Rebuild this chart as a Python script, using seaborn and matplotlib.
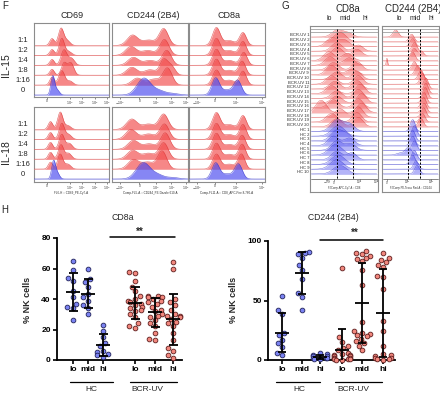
import numpy as np
import pandas as pd
import matplotlib
matplotlib.use("Agg")
import matplotlib.pyplot as plt
from matplotlib.lines import Line2D
import seaborn as sns

# ======================= DATA =======================
# ---- Panel H : % NK cells ----
H_CATS = ["lo", "mid", "hi", "lo", "mid", "hi"]
H_GROUPS = ["HC", "BCR-UV"]

cd8a_hc_lo = [65, 59, 54, 52, 45, 41, 37, 35, 34, 26]
cd8a_hc_mid = [60, 53, 51, 48, 43, 41, 39, 36, 34, 30]
cd8a_hc_hi = [23, 19, 15, 11, 9, 6, 5, 3, 2, 4]
cd8a_bcr_lo = [58, 57, 52, 48, 45, 42, 40, 39, 38, 37, 36, 35, 34, 33, 32, 30, 28, 24, 22, 21]
cd8a_bcr_mid = [42, 42, 41, 41, 40, 39, 38, 37, 35, 33, 32, 30, 29, 28, 26, 24, 22, 18, 14, 13]
cd8a_bcr_hi = [64, 60, 40, 38, 36, 33, 30, 29, 29, 28, 27, 25, 24, 22, 18, 13, 8, 6, 3, 1]

cd244_hc_lo = [54, 42, 39, 23, 21, 17, 14, 11, 6, 4]
cd244_hc_mid = [91, 90, 89, 86, 80, 76, 68, 56, 53, 42]
cd244_hc_hi = [6, 5, 4, 3, 3, 2, 2, 1, 1, 2]
cd244_bcr_lo = [77, 19, 15, 12, 10, 8, 6, 5, 4, 4, 3, 3, 2, 2, 2, 1, 1, 1, 0, 0]
cd244_bcr_mid = [92, 90, 89, 87, 86, 85, 83, 76, 63, 32, 24, 23, 22, 21, 20, 18, 16, 14, 12, 8]
cd244_bcr_hi = [90, 86, 84, 82, 80, 78, 71, 70, 60, 33, 24, 12, 5, 4, 3, 2, 2, 1, 1, 0]

# ---- Panel F : histogram peaks per row (centre, height in rows, width) ----
F_MARKERS = ["CD69", "CD244 (2B4)", "CD8a"]
F_CYTOKINES = ["IL-15", "IL-18"]
F_DILUTIONS = ["1:1", "1:2", "1:4", "1:8", "1:16", "0"]
F_XLABELS = ["FL6-H :: CD69_PE-Cy7-A", "Comp-FL5-A :: CD244_PE-Dazzle 610-A",
             "Comp-FL11-A :: CD8_APC-Fire 8-760-A"]

cd69_il15 = [
    [(0.24, 0.7, 0.03), (0.36, 1.7, 0.035), (0.44, 0.5, 0.04)],
    [(0.24, 0.6, 0.03), (0.37, 1.7, 0.035), (0.46, 0.4, 0.04)],
    [(0.24, 0.6, 0.03), (0.40, 1.55, 0.04), (0.50, 0.7, 0.04)],
    [(0.24, 0.6, 0.03), (0.40, 1.2, 0.035), (0.49, 1.25, 0.04)],
    [(0.24, 0.8, 0.03), (0.37, 1.45, 0.04), (0.48, 0.4, 0.04)],
    [(0.25, 1.9, 0.025), (0.31, 0.5, 0.03)],
]
cd244_il15 = [
    [(0.27, 1.05, 0.07), (0.48, 0.55, 0.08), (0.68, 1.7, 0.06)],
    [(0.25, 0.9, 0.07), (0.47, 0.5, 0.08), (0.69, 1.6, 0.06)],
    [(0.28, 0.8, 0.07), (0.50, 0.5, 0.08), (0.72, 1.5, 0.06)],
    [(0.26, 0.8, 0.07), (0.50, 0.55, 0.08), (0.68, 1.5, 0.05), (0.78, 0.9, 0.05)],
    [(0.33, 0.7, 0.07), (0.55, 0.6, 0.08), (0.73, 1.7, 0.06)],
    [(0.42, 1.7, 0.09), (0.62, 0.4, 0.08), (0.80, 0.15, 0.08)],
]
cd8a_il15 = [
    [(0.36, 1.8, 0.05), (0.53, 0.5, 0.07), (0.71, 1.3, 0.045)],
    [(0.36, 1.7, 0.05), (0.53, 0.5, 0.07), (0.71, 1.4, 0.045)],
    [(0.36, 1.6, 0.05), (0.53, 0.5, 0.07), (0.72, 1.3, 0.045)],
    [(0.36, 1.6, 0.05), (0.53, 0.5, 0.07), (0.70, 1.4, 0.045)],
    [(0.36, 1.5, 0.05), (0.53, 0.5, 0.07), (0.71, 1.4, 0.045)],
    [(0.35, 1.7, 0.05), (0.50, 0.5, 0.07), (0.64, 1.45, 0.05)],
]
cd69_il18 = [
    [(0.22, 0.8, 0.03), (0.35, 1.75, 0.035), (0.45, 0.4, 0.04)],
    [(0.22, 0.7, 0.03), (0.37, 1.6, 0.035), (0.46, 0.5, 0.04)],
    [(0.22, 0.7, 0.03), (0.37, 1.5, 0.035), (0.47, 0.6, 0.04)],
    [(0.22, 0.7, 0.03), (0.36, 1.45, 0.035), (0.46, 0.6, 0.04)],
    [(0.22, 0.7, 0.03), (0.35, 1.5, 0.035), (0.45, 0.5, 0.04)],
    [(0.26, 1.75, 0.025), (0.31, 0.6, 0.03)],
]
cd244_il18 = [
    [(0.26, 1.05, 0.07), (0.48, 0.55, 0.08), (0.68, 1.55, 0.06)],
    [(0.25, 1.0, 0.07), (0.48, 0.55, 0.08), (0.69, 1.55, 0.06)],
    [(0.28, 0.9, 0.07), (0.49, 0.55, 0.08), (0.70, 1.65, 0.06)],
    [(0.27, 0.9, 0.07), (0.48, 0.6, 0.08), (0.68, 1.65, 0.06)],
    [(0.28, 0.95, 0.07), (0.47, 0.7, 0.08), (0.66, 1.8, 0.06)],
    [(0.41, 1.65, 0.09), (0.60, 0.4, 0.08), (0.80, 0.15, 0.08)],
]
cd8a_il18 = [
    [(0.36, 1.7, 0.05), (0.53, 0.5, 0.07), (0.71, 1.4, 0.045)],
    [(0.36, 1.6, 0.05), (0.53, 0.5, 0.07), (0.71, 1.5, 0.045)],
    [(0.36, 1.6, 0.05), (0.53, 0.5, 0.07), (0.70, 1.4, 0.045)],
    [(0.36, 1.6, 0.05), (0.53, 0.5, 0.07), (0.70, 1.5, 0.045)],
    [(0.36, 1.5, 0.05), (0.53, 0.5, 0.07), (0.69, 1.5, 0.045)],
    [(0.35, 1.6, 0.05), (0.50, 0.5, 0.07), (0.65, 1.5, 0.05)],
]

# ---- Panel G : per-sample histogram peaks (centre, height in rows, width) ----
G_SAMPLES = [f"BCR-UV {i}" for i in range(1, 21)] + [f"HC {i}" for i in range(1, 11)]
g_cd8a = [
    [(0.39, 1.4, 0.08), (0.55, 0.9, 0.08)],
    [(0.44, 2.0, 0.09)],
    [(0.31, 1.8, 0.08), (0.50, 1.4, 0.08)],
    [(0.39, 1.8, 0.08), (0.72, 1.3, 0.07)],
    [(0.40, 1.8, 0.08), (0.70, 1.4, 0.07)],
    [(0.27, 1.9, 0.08), (0.55, 1.5, 0.08)],
    [(0.29, 1.8, 0.08), (0.58, 1.6, 0.08)],
    [(0.34, 1.6, 0.08), (0.70, 1.8, 0.07)],
    [(0.31, 2.0, 0.08), (0.62, 1.2, 0.08)],
    [(0.39, 1.6, 0.08), (0.70, 1.8, 0.07)],
    [(0.31, 1.8, 0.08), (0.72, 1.8, 0.07)],
    [(0.36, 1.6, 0.08), (0.70, 1.8, 0.07)],
    [(0.31, 1.7, 0.08), (0.75, 2.0, 0.07)],
    [(0.39, 1.6, 0.08), (0.72, 1.9, 0.07)],
    [(0.39, 1.5, 0.08), (0.77, 2.0, 0.07)],
    [(0.34, 1.7, 0.08), (0.72, 1.9, 0.07)],
    [(0.15, 2.6, 0.08), (0.77, 2.0, 0.07)],
    [(0.44, 1.8, 0.08), (0.72, 2.2, 0.07)],
    [(0.31, 1.8, 0.08), (0.70, 2.0, 0.07)],
    [(0.39, 1.7, 0.08), (0.72, 2.0, 0.07)],
    [(0.39, 2.4, 0.09), (0.58, 1.6, 0.08)],
    [(0.41, 2.2, 0.10)],
    [(0.39, 2.2, 0.09), (0.55, 1.2, 0.08)],
    [(0.34, 2.0, 0.08), (0.58, 1.6, 0.08)],
    [(0.39, 2.0, 0.08), (0.60, 1.4, 0.08)],
    [(0.37, 2.2, 0.10)],
    [(0.39, 1.8, 0.08), (0.62, 1.5, 0.07)],
    [(0.41, 2.0, 0.10)],
    [(0.39, 2.0, 0.10)],
    [(0.44, 1.8, 0.10)],
]
g_cd244 = [
    [(0.23, 1.5, 0.05)],
    [(0.52, 1.6, 0.045)],
    [(0.54, 1.7, 0.045)],
    [(0.57, 1.8, 0.045)],
    [(0.57, 1.6, 0.045), (0.70, 1.0, 0.04)],
    [(0.54, 1.8, 0.045)],
    [(0.07, 1.5, 0.012)],
    [(0.57, 1.8, 0.045)],
    [(0.63, 2.0, 0.045)],
    [(0.69, 2.0, 0.045)],
    [(0.72, 2.2, 0.045)],
    [(0.78, 2.3, 0.045)],
    [(0.78, 2.2, 0.045)],
    [(0.77, 2.3, 0.045)],
    [(0.75, 2.2, 0.045)],
    [(0.74, 2.2, 0.045)],
    [(0.75, 2.0, 0.045)],
    [(0.74, 2.0, 0.045)],
    [(0.72, 1.8, 0.045)],
    [(0.69, 1.8, 0.045)],
    [(0.54, 2.5, 0.045)],
    [(0.57, 2.2, 0.045)],
    [(0.54, 2.2, 0.045)],
    [(0.54, 2.0, 0.045)],
    [(0.57, 2.0, 0.045)],
    [(0.30, 0.4, 0.06), (0.46, 1.6, 0.06)],
    [(0.57, 2.0, 0.045)],
    [(0.54, 2.0, 0.045)],
    [(0.60, 1.8, 0.045)],
    [(0.62, 1.8, 0.045)],
]

# ======================= STYLE / LAYOUT =======================
sns.set_theme(style="white")
plt.rcParams["font.family"] = ["Liberation Sans", "DejaVu Sans"]

W, H = 440, 394
fig = plt.figure(figsize=(4.4, 3.94), dpi=100)
fig.patch.set_facecolor("white")

RED_F, RED_E = "#f24e4e", "#d93636"
BLUE_F, BLUE_E = "#4d4df0", "#3434c8"
PT_BLUE, PT_BLUE_E = "#7a82f2", "#22235a"
PT_RED, PT_RED_E = "#f2877d", "#5e1d1d"


def px_axes(x0, y0, x1, y1):
    return fig.add_axes([x0 / W, 1 - y1 / H, (x1 - x0) / W, (y1 - y0) / H])


def ftext(x, y, s, **kw):
    kw.setdefault("ha", "center")
    kw.setdefault("va", "center")
    fig.text(x / W, 1 - y / H, s, **kw)


def fline(x0, x1, y, lw=1.1):
    fig.add_artist(Line2D([x0 / W, x1 / W], [1 - y / H, 1 - y / H], color="black", lw=lw))


XG = np.linspace(0, 1, 400)


def profile(peaks):
    y = np.zeros_like(XG)
    for c, h, w in peaks:
        y += h * np.exp(-0.5 * ((XG - c) / w) ** 2)
    return y


def draw_ridges(ax, curves, is_blue, bases, unit, alpha, lw):
    for i, (pk, blue, b) in enumerate(zip(curves, is_blue, bases)):
        fc, ec = (BLUE_F, BLUE_E) if blue else (RED_F, RED_E)
        y = profile(pk) * unit
        ax.plot([0, 1], [b, b], color="#b8b8f0" if blue else "#f3c2c2", lw=0.4, zorder=2 * i)
        ax.fill_between(XG, b, b - y, color=fc, alpha=alpha, lw=0, zorder=2 * i + 1)
        ax.plot(XG, b - y, color=ec, lw=lw, alpha=0.8, zorder=2 * i + 1)


def box_style(ax):
    ax.set_facecolor("white")
    for s in ax.spines.values():
        s.set_visible(True)
        s.set_color("#8c8c8c")
        s.set_linewidth(0.8)
    ax.set_yticks([])


# ======================= PANEL F =======================
ftext(5.5, 6, "F", fontsize=7)
F_COLS = [(34, 109, 72), (112, 188, 153), (189, 265, 229)]
F_ROWS = [(23, 97, 65), (107, 182, 152)]
F_TICKS = [
    ([0.17, 0.48, 0.64, 0.81, 0.97], ["0", "$10^3$", "$10^4$", "$10^5$", "$10^6$"]),
    ([0.10, 0.36, 0.58, 0.78, 0.97], ["$-10^3$", "0", "$10^3$", "$10^4$", "$10^5$"]),
    ([0.10, 0.34, 0.62, 0.96], ["$-10^3$", "0", "$10^4$", "$10^5$"]),
]
F_DATA = [[cd69_il15, cd244_il15, cd8a_il15], [cd69_il18, cd244_il18, cd8a_il18]]
F_BASES = [22.5, 32.4, 42.3, 52.2, 62.1, 72.0]

for r, (y0, y1, ylab) in enumerate(F_ROWS):
    ftext(5.5, ylab, F_CYTOKINES[r], fontsize=7.5, rotation=90)
    for k, lab in enumerate(F_DILUTIONS):
        ftext(23, y0 + F_BASES[k] - 4.5, lab, fontsize=5.5)
    for c, (x0, x1, xt) in enumerate(F_COLS):
        ax = px_axes(x0, y0, x1, y1)
        box_style(ax)
        ax.set_xlim(0, 1)
        ax.set_ylim(y1 - y0, 0)
        draw_ridges(ax, F_DATA[r][c], [False] * 5 + [True], F_BASES, 9.9, 0.68, 0.4)
        tk, tl = F_TICKS[c]
        ax.set_xticks(tk)
        ax.set_xticklabels(tl, fontsize=2.3, color="#333333")
        ax.tick_params(axis="x", bottom=True, length=1.2, width=0.4, pad=0.6, colors="#333333")
        if r == 0:
            ftext(xt, 15, F_MARKERS[c], fontsize=6.5)
        else:
            ftext((x0 + x1) / 2, 193, F_XLABELS[c], fontsize=2.2, color="#333333")

# ======================= PANEL G =======================
ftext(285, 6, "G", fontsize=7)
G_BASES = [11 + 4.72 * i for i in range(30)]
G_BLUE = [False] * 20 + [True] * 10
G_PANELS = [
    (310, 378, g_cd8a, "CD8a", 348, [329, 345, 365], [0.40, 0.63],
     [0.24, 0.34, 0.74, 1.0], ["$-10^3$", "0", "$10^4$", "$10^5$"], "FJComp-APC-Cy7-A :: CD8"),
    (382, 439, g_cd244, "CD244 (2B4)", 413, [399, 415.5, 431], [0.46, 0.68],
     [0.07, 0.44, 0.88], ["0", "$10^3$", "$10^4$"], "FJComp-PE-Texas Red-A :: CD244"),
]
for x0, x1, curves, title, tx, lmh, dashes, tk, tl, xl in G_PANELS:
    ax = px_axes(x0, 26, x1, 192)
    box_style(ax)
    ax.set_xticks([])
    ax.set_xlim(-0.02, 1.02)
    ax.set_ylim(166, 0)
    ax.plot([-0.02, 1.02], [3, 3], color="#a0a0a0", lw=0.6)
    ax.plot([-0.02, 1.02], [6, 6], color="#a0a0a0", lw=0.6)
    draw_ridges(ax, curves, G_BLUE, G_BASES, 4.72, 0.42, 0.3)
    ax.vlines(dashes, 3, 153, colors="black", lw=0.7, linestyles=(0, (2.2, 1.4)), zorder=100)
    ax.plot([0.0, 1.0], [153, 153], color="#555555", lw=0.5, zorder=100)
    for xv, s in zip(tk, tl):
        ax.plot([xv, xv], [153, 154.5], color="#555555", lw=0.4, zorder=100)
        ax.text(xv, 156.5, s, fontsize=2.0, ha="center", va="center", color="#333333")
    ax.text(0.5, 161.5, xl, fontsize=1.9, ha="center", va="center", color="#333333")
    ftext(tx, 9, title, fontsize=7)
    for xx, s in zip(lmh, ["lo", "mid", "hi"]):
        ftext(xx, 19, s, fontsize=5)
for i, s in enumerate(G_SAMPLES):
    ftext(309, 26 + G_BASES[i] - 1.5, s, fontsize=3, ha="right")

# ======================= PANEL H =======================
ftext(5, 210, "H", fontsize=7)


def h_panel(ax, hc, bcr, pos, ymax, yticks, mean_hw, cap_hw):
    for vals, p, col, ec in ((hc, pos[:3], PT_BLUE, PT_BLUE_E), (bcr, pos[3:], PT_RED, PT_RED_E)):
        df = pd.DataFrame({"x": np.repeat(p, [len(v) for v in vals]),
                           "y": np.concatenate(vals)})
        sns.swarmplot(data=df, x="x", y="y", native_scale=True, color=col, edgecolor=ec,
                      linewidth=0.6, size=3.4, ax=ax, zorder=3, warn_thresh=1)
    for coll in ax.collections:
        coll.set_clip_on(False)
    for vals, x in zip(hc + bcr, pos):
        m, s = np.mean(vals), np.std(vals, ddof=1)
        kw = dict(color="black", lw=1.3, zorder=6, solid_capstyle="butt")
        ax.plot([x, x], [m - s, m + s], **kw)
        ax.plot([x - mean_hw, x + mean_hw], [m, m], **kw)
        ax.plot([x - cap_hw, x + cap_hw], [m + s, m + s], **kw)
        ax.plot([x - cap_hw, x + cap_hw], [m - s, m - s], **kw)
    ax.set_ylim(0, ymax)
    ax.set_yticks(yticks)
    ax.set_yticklabels([str(t) for t in yticks], fontsize=6, fontweight="bold")
    ax.set_xticks(pos)
    ax.set_xticklabels(H_CATS, fontsize=6, fontweight="bold")
    ax.set_xlabel("")
    ax.set_ylabel("")
    for side in ("top", "right"):
        ax.spines[side].set_visible(False)
    for side in ("left", "bottom"):
        ax.spines[side].set_color("black")
        ax.spines[side].set_linewidth(1.3)
    ax.tick_params(axis="both", bottom=True, left=True, length=3, width=1.2,
                   pad=1.5, colors="black")
    ax.set_facecolor("none")


# left: CD8a
axL = px_axes(57, 238, 182, 360)
posL = [73, 88, 103, 135, 155, 173]
h_panel(axL, [cd8a_hc_lo, cd8a_hc_mid, cd8a_hc_hi],
        [cd8a_bcr_lo, cd8a_bcr_mid, cd8a_bcr_hi], posL, 80, [0, 20, 40, 60, 80], 7, 4.5)
axL.set_xlim(57, 182)
ftext(123, 217, "CD8a", fontsize=6.3)
ftext(28, 300, "% NK cells", fontsize=6.5, fontweight="bold", rotation=90)
fline(110, 175, 237)
ftext(140, 231.5, "**", fontsize=7, fontweight="bold")
fline(70, 113, 382, lw=0.9)
fline(130, 177, 382, lw=0.9)
ftext(91, 389.5, H_GROUPS[0], fontsize=6)
ftext(147, 389.5, H_GROUPS[1], fontsize=6)

# right: CD244
axR = px_axes(268, 241, 395, 360)
posR = [282, 302, 320, 342, 362, 383]
h_panel(axR, [cd244_hc_lo, cd244_hc_mid, cd244_hc_hi],
        [cd244_bcr_lo, cd244_bcr_mid, cd244_bcr_hi], posR, 100, [0, 50, 100], 7, 4)
axR.set_xlim(268, 395)
ftext(333, 218, "CD244 (2B4)", fontsize=6.2)
ftext(233, 300, "% NK cells", fontsize=6.5, fontweight="bold", rotation=90)
fline(320, 383, 240)
ftext(355, 233, "**", fontsize=7, fontweight="bold")
fline(276, 320, 382, lw=0.9)
fline(335, 382, 382, lw=0.9)
ftext(299, 389.5, H_GROUPS[0], fontsize=6)
ftext(353, 389.5, H_GROUPS[1], fontsize=6)

fig.savefig("out.png", dpi=100, facecolor="white")
